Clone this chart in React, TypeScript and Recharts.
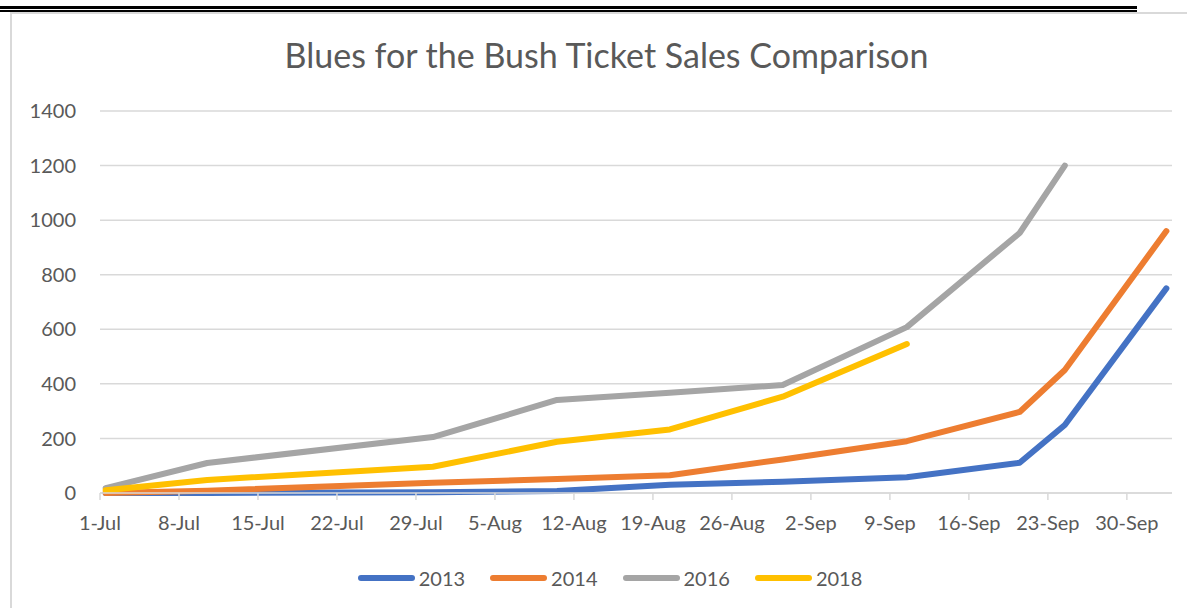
import { LineChart, Line, XAxis, YAxis, CartesianGrid, Legend } from "recharts";

const dates = ["1-Jul", "10-Jul", "30-Jul", "10-Aug", "20-Aug", "30-Aug", "10-Sep", "20-Sep", "24-Sep", "3-Oct"];
const sales2013 = [0, 0, 3, 7, 30, 41, 58, 111, 249, 750];
const sales2014 = [0, 8, 38, 51, 65, 123, 190, 297, 451, 960];
const sales2016 = [18, 110, 205, 341, 367, 396, 608, 953, 1200, null];
const sales2018 = [10, 48, 96, 188, 233, 353, 546, null, null, null];

const tickLabels = ["1-Jul", "8-Jul", "15-Jul", "22-Jul", "29-Jul", "5-Aug", "12-Aug", "19-Aug", "26-Aug", "2-Sep", "9-Sep", "16-Sep", "23-Sep", "30-Sep"];
const yTicks = [0, 200, 400, 600, 800, 1000, 1200, 1400];

const series = [
  { key: "y2013", name: "2013", color: "#4472C4" },
  { key: "y2014", name: "2014", color: "#ED7D31" },
  { key: "y2016", name: "2016", color: "#A5A5A5" },
  { key: "y2018", name: "2018", color: "#FFC000" },
];

// days since 1-Jul; Excel's date axis puts each point in the middle of its day
const monthStart: Record<string, number> = { Jul: 0, Aug: 31, Sep: 62, Oct: 92 };
const dayOf = (s: string) => {
  const [d, m] = s.split("-");
  return monthStart[m] + Number(d) - 1;
};

const data = dates.map((d, i) => ({
  day: dayOf(d) + 0.5,
  y2013: sales2013[i],
  y2014: sales2014[i],
  y2016: sales2016[i],
  y2018: sales2018[i],
}));

const xTicks = tickLabels.map((t) => dayOf(t));
const font = "Lato, 'Open Sans', sans-serif";
const textColor = "#595959";
const gridColor = "#D9D9D9";

function LegendContent() {
  return (
    <div style={{ display: "flex", justifyContent: "center", alignItems: "center", fontFamily: font, fontSize: 20, color: textColor }}>
      {series.map((s) => (
        <div key={s.key} style={{ display: "flex", alignItems: "center", marginRight: 24, marginLeft: 1 }}>
          <div style={{ width: 57, height: 6, borderRadius: 3, background: s.color, marginRight: 4 }} />
          <span>{s.name}</span>
        </div>
      ))}
    </div>
  );
}

export default function App() {
  return (
    <div style={{ position: "absolute", left: 0, top: 0, width: 1187, height: 608, background: "#fff", overflow: "hidden" }}>
      <div style={{ position: "absolute", left: 0, top: 6, width: 1137, height: 3, background: "#000" }} />
      <div style={{ position: "absolute", left: 0, top: 10, width: 1137, height: 2, background: "#000" }} />
      <div style={{ position: "absolute", left: 10, top: 12, width: 1180, height: 600, borderLeft: `2px solid ${gridColor}`, borderTop: `2px solid ${gridColor}`, boxSizing: "border-box" }} />
      <div style={{ position: "absolute", left: 0, top: 34, width: 1213, textAlign: "center", fontFamily: font, fontSize: 34, color: textColor, whiteSpace: "nowrap" }}>
        Blues for the Bush Ticket Sales Comparison
      </div>
      <div style={{ position: "absolute", left: 0, top: 0 }}>
        <LineChart width={1187} height={608} data={data} margin={{ top: 111, right: 15, bottom: 75, left: 0 }}>
          <CartesianGrid vertical={false} stroke={gridColor} strokeWidth={1.5} />
          <XAxis
            dataKey="day"
            type="number"
            domain={[0, 95]}
            ticks={xTicks}
            interval={0}
            tickFormatter={(v: number) => tickLabels[xTicks.indexOf(v)] ?? ""}
            height={40}
            stroke={gridColor}
            strokeWidth={1.5}
            tickSize={7}
            tickMargin={16}
            tick={{ fill: textColor, fontSize: 20, fontFamily: font }}
          />
          <YAxis
            domain={[0, 1400]}
            ticks={yTicks}
            width={100}
            axisLine={false}
            tickLine={false}
            tickMargin={18}
            tick={{ fill: textColor, fontSize: 20, fontFamily: font }}
          />
          <Legend
            layout="horizontal"
            verticalAlign="middle"
            align="center"
            wrapperStyle={{ top: 566, left: 16, width: 1211 }}
            content={() => <LegendContent />}
          />
          {series.map((s) => (
            <Line
              key={s.key}
              dataKey={s.key}
              name={s.name}
              stroke={s.color}
              strokeWidth={6}
              strokeLinecap="round"
              strokeLinejoin="round"
              dot={false}
              activeDot={false}
              type="linear"
              isAnimationActive={false}
            />
          ))}
        </LineChart>
      </div>
    </div>
  );
}
